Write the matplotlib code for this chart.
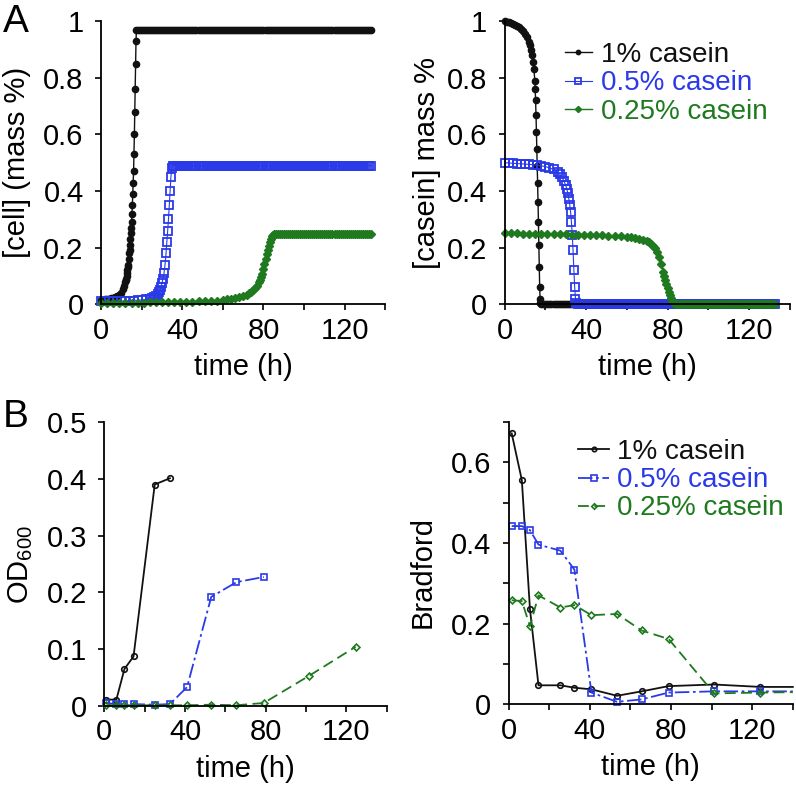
import matplotlib.pyplot as plt
from matplotlib.ticker import MultipleLocator

plt.rcParams['font.family'] = ['Liberation Sans', 'DejaVu Sans']
plt.rcParams['mathtext.fontset'] = 'custom'
plt.rcParams['mathtext.rm'] = 'Liberation Sans'

# colores
negro = '#111111'
azul = '#2b3ae8'
verde = '#1f7a1f'

etiquetas = ['1% casein', '0.5% casein', '0.25% casein']

# ---- panel A: simulacion, [cell] ----
t_cell_1 = [0, 1, 2, 3, 4, 5, 6, 7, 8, 9, 10, 11, 11.5,
            12.0, 12.2, 12.4, 12.6, 12.8, 13.0, 13.2, 13.4, 13.6, 13.8, 14.0, 14.2, 14.4, 14.6,
            14.8, 15.0, 15.2, 15.4, 15.6, 15.8, 16.0, 16.2, 16.4, 16.6, 16.8, 17.0, 17.2, 17.4] + list(range(18, 134))
cell_1 = [0.015, 0.016, 0.017, 0.018, 0.019, 0.021, 0.023, 0.025, 0.028, 0.033, 0.040, 0.052, 0.065,
          0.08, 0.085, 0.09, 0.10, 0.11, 0.12, 0.13, 0.14, 0.16, 0.18, 0.19, 0.21, 0.23, 0.25,
          0.27, 0.29, 0.32, 0.35, 0.39, 0.43, 0.47, 0.53, 0.60, 0.68, 0.76, 0.85, 0.93, 0.97] + [0.97] * 116

t_cell_05 = [0, 2, 4, 6, 8, 10, 12, 14, 16, 18, 20, 22, 24, 25, 26, 27, 28,
             28.5, 29, 29.5, 30, 30.5, 31, 31.5, 32,
             32.4, 32.8, 33.2, 33.6, 34.0, 34.4, 34.8, 35.2] + list(range(36, 134))
cell_05 = [0.010, 0.010, 0.010, 0.011, 0.011, 0.011, 0.012, 0.012, 0.013, 0.014, 0.015, 0.017, 0.020,
           0.022, 0.025, 0.030, 0.037,
           0.042, 0.05, 0.06, 0.075, 0.09, 0.11, 0.14, 0.18,
           0.22, 0.26, 0.30, 0.35, 0.40, 0.45, 0.48, 0.49] + [0.49] * 98

t_cell_025 = [0, 3, 6, 9, 12, 15, 18, 21, 24, 27, 30, 33, 36, 39, 42, 45, 48, 51, 54, 57,
              60, 62, 64, 66, 68, 70, 72, 73, 74, 75, 76, 77, 78,
              78.5, 79, 79.5, 80, 80.5, 81, 81.5, 82, 82.5, 83, 83.5, 84, 84.5, 85] + list(range(86, 134))
cell_025 = [0.004, 0.004, 0.004, 0.005, 0.005, 0.005, 0.005, 0.005, 0.006, 0.006, 0.006, 0.007, 0.007,
            0.008, 0.008, 0.009, 0.010, 0.011, 0.012, 0.013,
            0.015, 0.017, 0.019, 0.021, 0.024, 0.028, 0.034, 0.038, 0.043, 0.05, 0.057, 0.066, 0.077,
            0.085, 0.095, 0.108, 0.124, 0.142, 0.16, 0.177, 0.193, 0.207, 0.22, 0.232, 0.24, 0.245,
            0.248] + [0.248] * 48

# ---- panel A: simulacion, [casein] ----
t_cas_1 = [0, 1, 2, 3, 4, 5, 6, 7, 8, 9, 10, 11, 12, 12.5, 13, 13.5, 14, 14.4, 14.8,
           15.0, 15.2, 15.4, 15.6, 15.8, 16.0, 16.2, 16.4, 16.6, 16.8, 17.0, 17.2, 17.4, 17.6] + list(range(18, 134))
cas_1 = [1.0, 0.998, 0.996, 0.994, 0.99, 0.987, 0.983, 0.978, 0.972, 0.965, 0.955, 0.943, 0.925,
         0.915, 0.90, 0.88, 0.855, 0.83, 0.79,
         0.76, 0.72, 0.67, 0.61, 0.55, 0.49, 0.43, 0.36, 0.29, 0.21, 0.13, 0.06, 0.02, 0.003] + [0.0] * 116

t_cas_05 = [0, 2, 4, 6, 8, 10, 12, 14, 16, 18, 20, 22, 24, 26, 27, 28, 29, 30,
            30.5, 31, 31.5, 32, 32.4, 32.8, 33.2, 33.6, 34.0, 34.4, 34.8, 35.2] + list(range(36, 134))
cas_05 = [0.5, 0.499, 0.498, 0.497, 0.496, 0.495, 0.494, 0.493, 0.491, 0.489, 0.486, 0.482, 0.476,
          0.467, 0.46, 0.45, 0.437, 0.42,
          0.408, 0.393, 0.373, 0.35, 0.325, 0.29, 0.245, 0.19, 0.12, 0.06, 0.02, 0.003] + [0.0] * 98

t_cas_025 = [0, 3, 6, 9, 12, 15, 18, 21, 24, 27, 30, 33, 36, 39, 42, 45, 48, 51, 54, 57,
             60, 62, 64, 66, 68, 70, 71, 72, 73, 74, 75, 76, 77, 78,
             78.5, 79, 79.5, 80, 80.5, 81, 81.5, 82, 82.5, 83, 83.5, 84] + list(range(85, 134))
cas_025 = [0.25, 0.25, 0.25, 0.249, 0.249, 0.249, 0.248, 0.248, 0.248, 0.247, 0.247, 0.246, 0.246,
           0.245, 0.245, 0.244, 0.243, 0.242, 0.241, 0.240,
           0.238, 0.236, 0.234, 0.231, 0.228, 0.223, 0.219, 0.214, 0.207, 0.197, 0.184, 0.165, 0.142, 0.115,
           0.10, 0.085, 0.07, 0.056, 0.043, 0.031, 0.021, 0.013, 0.007, 0.003, 0.001, 0.0] + [0.0] * 49

# ---- panel B: experimentos ----
t_exp = [1, 6, 10, 14.5, 25, 32.5, 41, 53, 65.5, 79, 101.5, 124.5]
od_1 = [0.011, 0.011, 0.065, 0.087, 0.39, 0.401]
od_05 = [0.005, 0.003, 0.003, 0.003, 0.002, 0.003, 0.033, 0.192, 0.218, 0.227]
od_025 = [0.001, 0.001, 0.001, 0.001, 0.001, 0.001, 0.001, 0.002, 0.001, 0.005, 0.053, 0.104]

t_brad = [1.5, 6.5, 10.5, 14.7, 25.5, 32.4, 40.8, 53.4, 65.5, 78.8, 101.2, 124, 140]
brad_1 = [0.672, 0.556, 0.236, 0.047, 0.047, 0.041, 0.037, 0.021, 0.032, 0.045, 0.049, 0.043, 0.043]
brad_05 = [0.442, 0.442, 0.432, 0.396, 0.381, 0.334, 0.029, 0.006, 0.012, 0.029, 0.032, 0.032, 0.032]
brad_025 = [0.258, 0.256, 0.194, 0.27, 0.24, 0.246, 0.221, 0.224, 0.183, 0.162, 0.027, 0.029, 0.030]


def estilo_ejes(ax, ymax, ypaso, yticks, ylabels):
    ax.spines['top'].set_visible(False)
    ax.spines['right'].set_visible(False)
    ax.spines['left'].set_linewidth(1.3)
    ax.spines['bottom'].set_linewidth(1.3)
    ax.set_xlim(0, 140)
    ax.set_ylim(0, ymax)
    ax.set_xticks([0, 40, 80, 120])
    ax.xaxis.set_minor_locator(MultipleLocator(20))
    ax.set_yticks(yticks)
    ax.set_yticklabels(ylabels)
    if ypaso:
        ax.yaxis.set_minor_locator(MultipleLocator(ypaso))
    ax.tick_params(which='both', direction='out', length=4.5, width=1.2, labelsize=21)
    ax.tick_params(axis='x', pad=4.5)
    ax.tick_params(axis='y', pad=8)
    ax.set_xlabel('time (h)', fontsize=21, labelpad=6)


fig = plt.figure(figsize=(7.96, 7.86), dpi=100)

ax1 = fig.add_axes([0.127, 0.613, 0.357, 0.360])
ax2 = fig.add_axes([0.634, 0.613, 0.358, 0.360])
ax3 = fig.add_axes([0.131, 0.102, 0.355, 0.361])
ax4 = fig.add_axes([0.639, 0.104, 0.357, 0.359])

yt_a = [0, 0.2, 0.4, 0.6, 0.8, 1]
yl_a = ['0', '0.2', '0.4', '0.6', '0.8', '1']

# A izquierda
ax1.plot(t_cell_1, cell_1, '-o', color=negro, ms=4.5, lw=1, clip_on=False)
ax1.plot(t_cell_05, cell_05, '-s', color=azul, ms=5.5, mfc='none', mew=1.3, lw=0.8, clip_on=False)
ax1.plot(t_cell_025, cell_025, '-D', color=verde, ms=4.5, lw=1, clip_on=False)
estilo_ejes(ax1, 1, None, yt_a, yl_a)
ax1.set_ylabel('[cell] (mass %)', fontsize=21)
ax1.yaxis.set_label_coords(-0.245, 0.5)

# A derecha
l1, = ax2.plot(t_cas_1, cas_1, '-o', color=negro, ms=4.5, lw=1, clip_on=False, label=etiquetas[0])
l2, = ax2.plot(t_cas_05, cas_05, '-s', color=azul, ms=5.5, mfc='none', mew=1.3, lw=0.8, clip_on=False,
               label=etiquetas[1])
l3, = ax2.plot(t_cas_025, cas_025, '-D', color=verde, ms=4.5, lw=1, clip_on=False, label=etiquetas[2])
estilo_ejes(ax2, 1, None, yt_a, yl_a)
ax2.set_ylabel('[casein] mass %', fontsize=21)
ax2.yaxis.set_label_coords(-0.222, 0.5)

leg = ax2.legend(handles=[l1, l2, l3], loc='upper left', bbox_to_anchor=(0.21, 0.928), frameon=False,
                 fontsize=20, handlelength=1.0, handletextpad=0.3, labelspacing=0.1,
                 borderpad=0, borderaxespad=0, markerscale=0.7)
for txt, c in zip(leg.get_texts(), [negro, azul, verde]):
    txt.set_color(c)

# B izquierda
ax3.plot(t_exp[:len(od_1)], od_1, '-o', color=negro, ms=4, mfc='none', mew=1.2, lw=1.3, clip_on=False)
ax3.plot(t_exp[:len(od_05)], od_05, '-s', color=azul, ms=5, mfc='none', mew=1.2, lw=1.3,
         dashes=[8, 2, 1.5, 2], clip_on=False)
ax3.plot(t_exp, od_025, '--D', color=verde, ms=3.5, mfc='none', mew=1.2, lw=1.3, dashes=[6, 3], clip_on=False)
estilo_ejes(ax3, 0.5, None, [0, 0.1, 0.2, 0.3, 0.4, 0.5], ['0', '0.1', '0.2', '0.3', '0.4', '0.5'])
ax3.set_ylabel('OD$_{600}$', fontsize=21)
ax3.yaxis.set_label_coords(-0.245, 0.5)

# B derecha
ultimo = slice(0, len(t_brad) - 1)
b1, = ax4.plot(t_brad, brad_1, '-o', color=negro, ms=4, mfc='none', mew=1.2, lw=1.3, clip_on=False,
               markevery=ultimo, label=etiquetas[0])
b2, = ax4.plot(t_brad, brad_05, '-s', color=azul, ms=5, mfc='none', mew=1.2, lw=1.3,
               dashes=[8, 2, 1.5, 2], clip_on=False, markevery=ultimo, label=etiquetas[1])
b3, = ax4.plot(t_brad, brad_025, '--D', color=verde, ms=3.5, mfc='none', mew=1.2, lw=1.3, dashes=[6, 3],
               clip_on=False, markevery=ultimo, label=etiquetas[2])
estilo_ejes(ax4, 0.7, 0.1, [0, 0.2, 0.4, 0.6], ['0', '0.2', '0.4', '0.6'])
ax4.set_ylabel('Bradford', fontsize=21)
ax4.yaxis.set_label_coords(-0.255, 0.47)

leg2 = ax4.legend(handles=[b1, b2, b3], loc='upper left', bbox_to_anchor=(0.245, 0.94), frameon=False,
                  fontsize=20, handlelength=1.1, handletextpad=0.3, labelspacing=0.08,
                  borderpad=0, borderaxespad=0, markerscale=0.8)
for txt, c in zip(leg2.get_texts(), [negro, azul, verde]):
    txt.set_color(c)

fig.text(0.004, 0.995, 'A', fontsize=28, va='top', ha='left')
fig.text(0.004, 0.493, 'B', fontsize=28, va='top', ha='left')

fig.savefig('out.png', dpi=100)
